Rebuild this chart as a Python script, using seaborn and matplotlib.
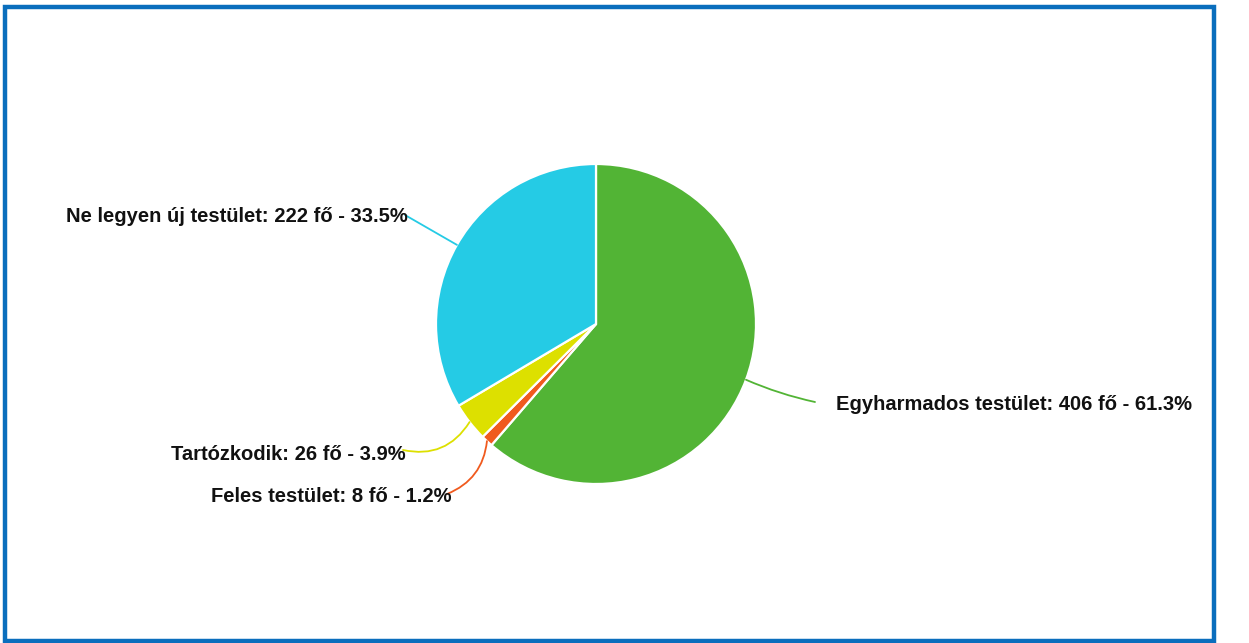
import numpy as np
import matplotlib.pyplot as plt
import matplotlib.patches as mpatches
import seaborn as sns

# Data
categories = ["Egyharmados testület", "Feles testület", "Tartózkodik", "Ne legyen új testület"]
counts = [406, 8, 26, 222]
colors = ["#52B435", "#F05A1E", "#DDE000", "#25CBE5"]

W, H = 1249, 643

sns.set_theme(style="white")
plt.rcParams["font.family"] = ["Liberation Sans", "DejaVu Sans"]

fig = plt.figure(figsize=(W / 100, H / 100), dpi=100)
ax = fig.add_axes([0, 0, 1, 1])

cx, cy, r = 596, H - 324, 160
wedges, _ = ax.pie(
    counts,
    colors=colors,
    startangle=90,
    counterclock=False,
    center=(cx, cy),
    radius=r,
    wedgeprops=dict(edgecolor="white", linewidth=1.6),
    frame=True,
)
ax.set_xlim(0, W)
ax.set_ylim(0, H)
ax.set_aspect("equal")
ax.axis("off")

total = sum(counts)
# label placement: (text x, text y from top, ha, rad of leader)
label_pos = [
    (836, 405, "left", 0.05),
    (452, 497, "right", -0.3),
    (406, 455, "right", -0.35),
    (408, 217, "right", 0.0),
]
line_end = [(815, 402), (447, 494), (403, 450), (405, 215)]

for w, name, n, col, (tx, ty, ha, rad), (lx, ly) in zip(
    wedges, categories, counts, colors, label_pos, line_end
):
    ang = np.deg2rad((w.theta1 + w.theta2) / 2)
    px = cx + r * np.cos(ang)
    py = cy + r * np.sin(ang)
    ax.annotate(
        "",
        xy=(lx, H - ly),
        xytext=(px, py),
        arrowprops=dict(arrowstyle="-", color=col, lw=1.3,
                        connectionstyle=f"arc3,rad={rad}",
                        shrinkA=0, shrinkB=0),
    )
    pct = 100 * n / total
    ax.text(tx, H - ty, f"{name}: {n} fő - {pct:.1f}%", ha=ha, va="center",
            fontsize=14.5, fontweight="bold", color="#111111", zorder=3)

# blue frame around the chart
frame = mpatches.Rectangle((4.5 / W, 2 / H), (1214 - 4.5) / W, (H - 6.5 - 2) / H,
                           transform=fig.transFigure, fill=False,
                           edgecolor="#0A6EBD", linewidth=3.2, zorder=10)
fig.patches.append(frame)

fig.savefig("out.png", dpi=100)
